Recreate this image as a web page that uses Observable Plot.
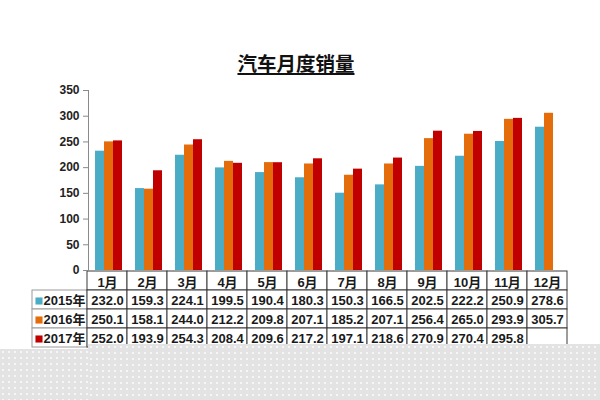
<!DOCTYPE html>
<html>
<head>
<meta charset="utf-8">
<script src="https://cdn.jsdelivr.net/npm/d3@7"></script>
<script src="https://cdn.jsdelivr.net/npm/@observablehq/plot@0.6"></script>
<style>
  html, body { margin: 0; padding: 0; background: #ffffff; }
  body { width: 600px; height: 400px; position: relative; overflow: hidden;
         font-family: "Liberation Sans", Arial, "Noto Sans CJK SC", sans-serif; }
  #title { position: absolute; left: 0; width: 592px; top: 52px; height: 22px; line-height: 22px;
           text-align: center; font-family: "Noto Sans CJK SC", sans-serif; font-weight: bold;
           font-size: 19.5px; color: #111; }
  #title span { text-decoration: underline; text-underline-offset: 2px; text-decoration-thickness: 1.5px; }
  #chart { position: absolute; left: 0; top: 80px; z-index: 2; }
  #chart svg { overflow: visible !important; }
  #table { position: absolute; left: 0; top: 270px; z-index: 1; }
  .chart text { fill: #222; }
  .tbl text { fill: #1a1a1a; }
  .dots { position: absolute; z-index: 3; background-color: #e3e3e3;
          background-image: radial-gradient(circle, #f6f6f6 0.9px, transparent 1.2px);
          background-size: 6px 6px; }
</style>
</head>
<body>
<div id="title"><span>汽车月度销量</span></div>
<div id="chart"></div>
<div id="table"></div>
<div class="dots" style="left:0;top:349px;width:88px;height:51px;"></div>
<div class="dots" style="left:88px;top:343.5px;width:512px;height:57px;"></div>
<script>
const months = ["1月","2月","3月","4月","5月","6月","7月","8月","9月","10月","11月","12月"];
const years = ["2015年","2016年","2017年"];
const sales2015 = [232.0,159.3,224.1,199.5,190.4,180.3,150.3,166.5,202.5,222.2,250.9,278.6];
const sales2016 = [250.1,158.1,244.0,212.2,209.8,207.1,185.2,207.1,256.4,265.0,293.9,305.7];
const sales2017 = [252.0,193.9,254.3,208.4,209.6,217.2,197.1,218.6,270.9,270.4,295.8,null];
const yTicks = [0,50,100,150,200,250,300,350];
const colors = ["#4bacc6","#e46c0a","#c00000"];

const series = [sales2015, sales2016, sales2017];
const barData = [];
months.forEach((m, i) => years.forEach((y, j) => {
  const v = series[j][i];
  if (v != null) barData.push({month: m, year: y, value: v});
}));

const chart = Plot.plot({
  width: 600, height: 191,
  marginTop: 10, marginBottom: 1, marginLeft: 83, marginRight: 28,
  className: "chart",
  style: {fontSize: "12px", fontWeight: "bold", color: "#8a8a8a", background: "transparent",
          overflow: "visible", fontFamily: "'Liberation Sans', Arial, sans-serif"},
  facet: {data: barData, x: "month"},
  fx: {domain: months, padding: 0, axis: null, label: null},
  x: {domain: years, axis: null, paddingInner: 0, paddingOuter: 0.57},
  y: {domain: [0, 350], ticks: yTicks, tickSize: 5, tickPadding: 4, label: null, line: true},
  color: {domain: years, range: colors},
  marks: [
    Plot.barY(barData, {x: "year", y: "value", fill: "year", inset: 0})
  ]
});
document.getElementById("chart").appendChild(chart);

// data table under the chart
const labelKey = "系列";
const headerKey = "月份";
const tableCols = [labelKey, ...months];
const tableRows = [headerKey, ...years];
const gridCells = [];
tableRows.forEach(r => months.forEach(m => gridCells.push({row: r, col: m})));
const valueCells = [];
months.forEach((m, i) => years.forEach((y, j) => {
  const v = series[j][i];
  if (v != null) valueCells.push({row: y, col: m, text: v.toFixed(1)});
}));
const headerCells = months.map(m => ({row: headerKey, col: m, text: m}));
const labelCells = years.map(y => ({row: y, col: labelKey, text: y}));

const table = Plot.plot({
  width: 600, height: 78,
  marginTop: 1, marginBottom: 1, marginLeft: 600 - 28 - 13 * (489 / 12), marginRight: 28,
  className: "tbl",
  style: {fontSize: "13px", fontWeight: "bold", background: "transparent",
          fontFamily: "'Liberation Sans', Arial, 'Noto Sans CJK SC', sans-serif"},
  x: {type: "band", domain: tableCols, padding: 0, axis: null},
  y: {type: "band", domain: tableRows, padding: 0, axis: null},
  color: {domain: years, range: colors},
  marks: [
    Plot.cell(labelCells, {x: "col", y: "row", fill: "white", stroke: "#9a9a9a", insetLeft: -15}),
    Plot.cell(gridCells, {x: "col", y: "row", fill: "white", stroke: "#3a3a3a"}),
    Plot.text(headerCells, {x: "col", y: "row", text: "text", dy: 1.5}),
    Plot.text(valueCells, {x: "col", y: "row", text: "text", dy: 1}),
    Plot.text(labelCells, {x: "col", y: "row", text: "text", textAnchor: "end", dx: 18, dy: 1}),
    Plot.dot(labelCells, {x: "col", y: "row", fill: "text", symbol: "square", r: 4, dx: -28.5, dy: 1})
  ]
});
document.getElementById("table").appendChild(table);
</script>
</body>
</html>
